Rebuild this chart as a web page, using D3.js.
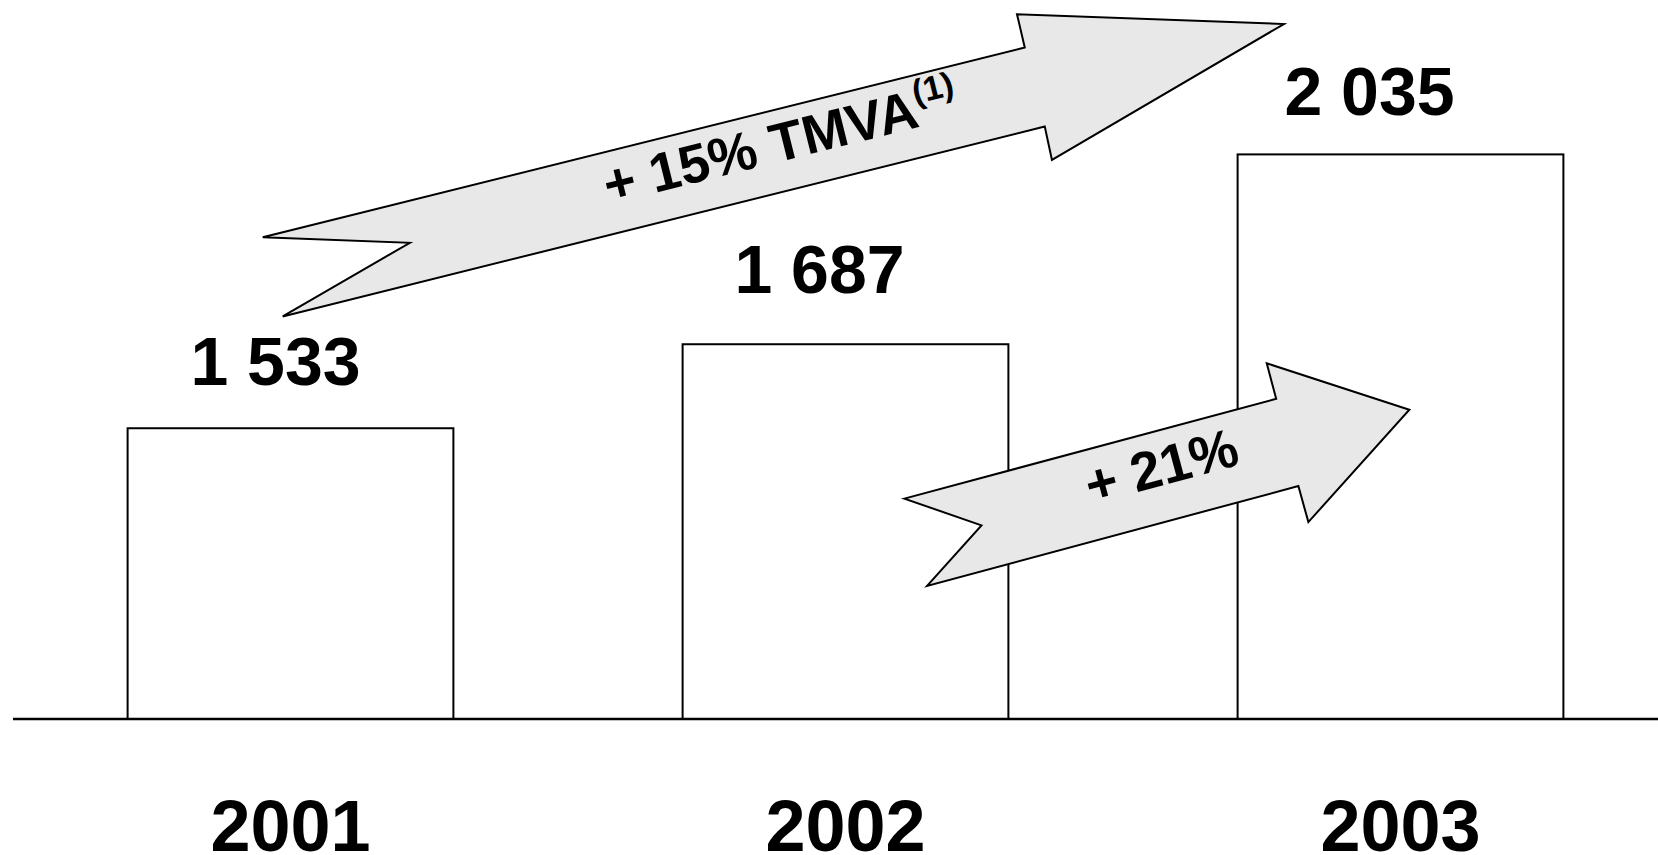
<!DOCTYPE html>
<html>
<head>
<meta charset="utf-8">
<script src="https://cdn.jsdelivr.net/npm/d3@7"></script>
<style>
  html, body { margin: 0; padding: 0; background: #fff; }
  svg { display: block; }
  text { font-family: "Liberation Sans", Arial, sans-serif; font-weight: bold; fill: #000; }
</style>
</head>
<body>
<svg id="chart" width="1658" height="855"></svg>
<script>
// ---- data ----
const years = ["2001", "2002", "2003"];
const values = [1533, 1687, 2035];
const valueLabels = ["1 533", "1 687", "2 035"];
const growthLabels = ["+ 15% TMVA", "+ 21%"];
const growthNotes = ["(1)", ""];

// arrow outlines in chart units: [year position, value]
const arrowLong = [
  [2000.950, 1883], [2002.323, 2231], [2002.309, 2292], [2002.790, 2274],
  [2002.372, 2025], [2002.359, 2086], [2000.986, 1738], [2001.215, 1873]
];
const arrowShort = [
  [2002.106, 1404], [2002.776, 1587], [2002.759, 1652], [2003.016, 1567],
  [2002.834, 1361], [2002.816, 1427], [2002.147, 1244], [2002.245, 1355]
];
// label anchor points in chart units
const growthAnchors = [[2001.891, 2024], [2002.578, 1430]];

// ---- layout ----
const W = 1658, H = 855;
const svg = d3.select("#chart");

const x = d3.scaleBand().domain(years).range([13, 1678])
  .paddingInner(0.413).paddingOuter(0.2065);
const bw = x.bandwidth();
const y = d3.scaleLinear().domain([1000, 2000]).range([719, 173.5]);
// continuous scale along the year axis for annotations
const xc = d3.scaleLinear().domain([2001, 2003])
  .range([x(years[0]) + bw / 2, x(years[2]) + bw / 2]);

const labelNudge = [[-15, -43], [-26, -51], [-31, -39]];

// bars
svg.append("g").selectAll("rect").data(years).join("rect")
  .attr("x", d => x(d))
  .attr("y", (d, i) => y(values[i]))
  .attr("width", bw)
  .attr("height", (d, i) => y(1000) - y(values[i]))
  .attr("fill", "#fff")
  .attr("stroke", "#000")
  .attr("stroke-width", 2);

// baseline
svg.append("line")
  .attr("x1", 13).attr("x2", W)
  .attr("y1", y(1000)).attr("y2", y(1000))
  .attr("stroke", "#000").attr("stroke-width", 2.5);

// value labels
svg.append("g").selectAll("text").data(years).join("text")
  .attr("x", (d, i) => x(d) + bw / 2 + labelNudge[i][0])
  .attr("y", (d, i) => y(values[i]) + labelNudge[i][1])
  .attr("text-anchor", "middle")
  .attr("font-size", 68)
  .text((d, i) => valueLabels[i]);

// year labels
svg.append("g").selectAll("text").data(years).join("text")
  .attr("x", d => x(d) + bw / 2)
  .attr("y", 851)
  .attr("text-anchor", "middle")
  .attr("font-size", 72)
  .text(d => d);

// arrows
const line = d3.line().x(p => xc(p[0])).y(p => y(p[1])).curve(d3.curveLinearClosed);
const arrows = [arrowLong, arrowShort];
svg.append("g").selectAll("path").data(arrows).join("path")
  .attr("d", line)
  .attr("fill", "#e8e8e8")
  .attr("stroke", "#000")
  .attr("stroke-width", 2)
  .attr("stroke-linejoin", "miter");

// growth labels, rotated along the arrow shaft
arrows.forEach((pts, i) => {
  const a = pts[0], b = pts[1];
  const ang = Math.atan2(y(b[1]) - y(a[1]), xc(b[0]) - xc(a[0])) * 180 / Math.PI;
  const cx = xc(growthAnchors[i][0]), cy = y(growthAnchors[i][1]);
  const t = svg.append("text")
    .attr("transform", `translate(${cx},${cy}) rotate(${ang})`)
    .attr("text-anchor", "middle")
    .attr("font-size", 54.5);
  t.append("tspan").text(growthLabels[i]);
  if (growthNotes[i]) {
    t.append("tspan").attr("dy", -23).attr("font-size", 34).text(growthNotes[i]);
  }
});
</script>
</body>
</html>
